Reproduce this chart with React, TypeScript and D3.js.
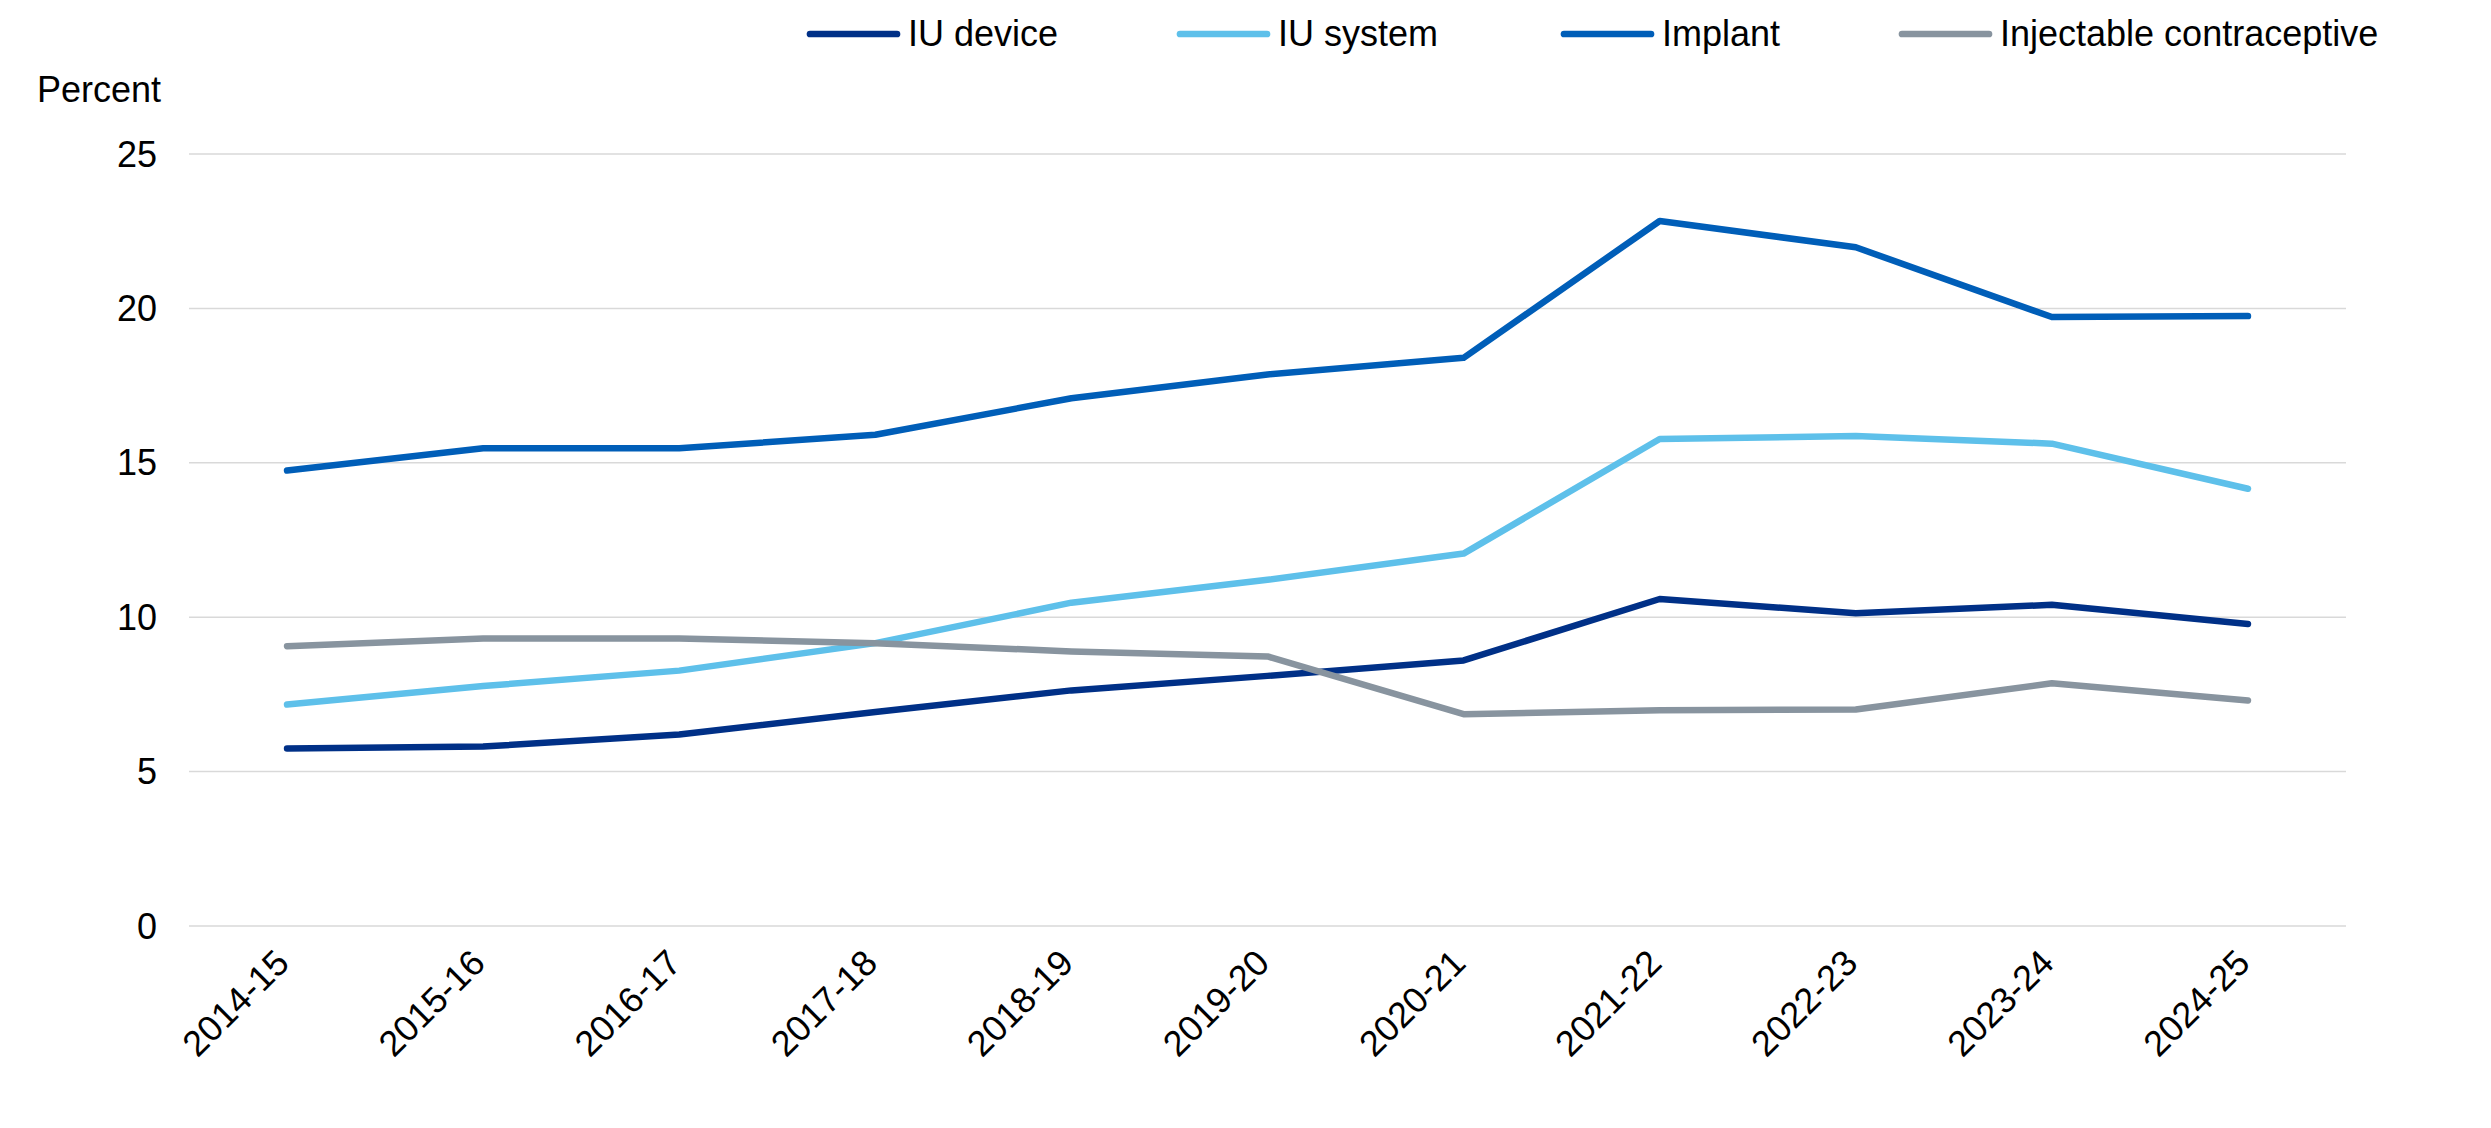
import * as d3 from "d3";
import React, { useEffect } from "react";

const years = [
  "2014-15", "2015-16", "2016-17", "2017-18", "2018-19", "2019-20",
  "2020-21", "2021-22", "2022-23", "2023-24", "2024-25",
];
const iuDevice = [5.75, 5.81, 6.2, 6.93, 7.63, 8.1, 8.6, 10.59, 10.13, 10.4, 9.78];
const iuSystem = [7.17, 7.77, 8.27, 9.16, 10.47, 11.21, 12.06, 15.77, 15.87, 15.62, 14.16];
const implant = [14.75, 15.47, 15.47, 15.91, 17.09, 17.86, 18.4, 22.83, 21.98, 19.72, 19.75];
const injectable = [9.06, 9.31, 9.31, 9.16, 8.89, 8.73, 6.86, 6.99, 7.01, 7.86, 7.3];
const yTicks = [0, 5, 10, 15, 20, 25];

const seriesNames = ["IU device", "IU system", "Implant", "Injectable contraceptive"];
const seriesValues = [iuDevice, iuSystem, implant, injectable];
const seriesColors = ["#003087", "#5EC0EA", "#005EB8", "#88949F"];

const W = 2491;
const H = 1128;
const FONT = "'Liberation Sans', Arial, sans-serif";
const FS = 36;
const legendTextX = [908, 1278, 1662, 2000];

const App: React.FC = () => {
  useEffect(() => {
    document.body.style.margin = "0";
  }, []);

  const x = d3.scaleBand<string>().domain(years).range([189, 2346]);
  const y = d3.scaleLinear().domain([0, 25]).range([926, 154]);
  const cx = (d: string) => (x(d) || 0) + x.bandwidth() / 2;

  const line = d3
    .line<number>()
    .x((_, i) => cx(years[i]))
    .y((d) => y(d));

  return (
    <svg width={W} height={H} style={{ display: "block", background: "#fff" }} fontFamily={FONT}>
      {/* gridlines + y labels */}
      {yTicks.map((t) => (
        <g key={t}>
          <line x1={189} x2={2346} y1={y(t)} y2={y(t)} stroke="#d9d9d9" strokeWidth={1.5} />
          <text x={157} y={y(t)} textAnchor="end" dominantBaseline="central" fontSize={FS} fill="#000">
            {t}
          </text>
        </g>
      ))}
      <text x={37} y={102} fontSize={FS} fill="#000">Percent</text>

      {/* x labels */}
      {years.map((d) => (
        <text
          key={d}
          transform={`translate(${cx(d) + 4},${y(0) + 39}) rotate(-45)`}
          textAnchor="end"
          fontSize={FS}
          fill="#000"
        >
          {d}
        </text>
      ))}

      {/* lines */}
      {seriesValues.map((vals, i) => (
        <path
          key={seriesNames[i]}
          d={line(vals) || ""}
          fill="none"
          stroke={seriesColors[i]}
          strokeWidth={6.5}
          strokeLinecap="round"
          strokeLinejoin="round"
        />
      ))}

      {/* legend */}
      {seriesNames.map((name, i) => (
        <g key={name}>
          <line
            x1={legendTextX[i] - 98}
            x2={legendTextX[i] - 11}
            y1={34}
            y2={34}
            stroke={seriesColors[i]}
            strokeWidth={6.7}
            strokeLinecap="round"
          />
          <text x={legendTextX[i]} y={33} dominantBaseline="central" fontSize={FS} fill="#000">
            {name}
          </text>
        </g>
      ))}
    </svg>
  );
};

export default App;
